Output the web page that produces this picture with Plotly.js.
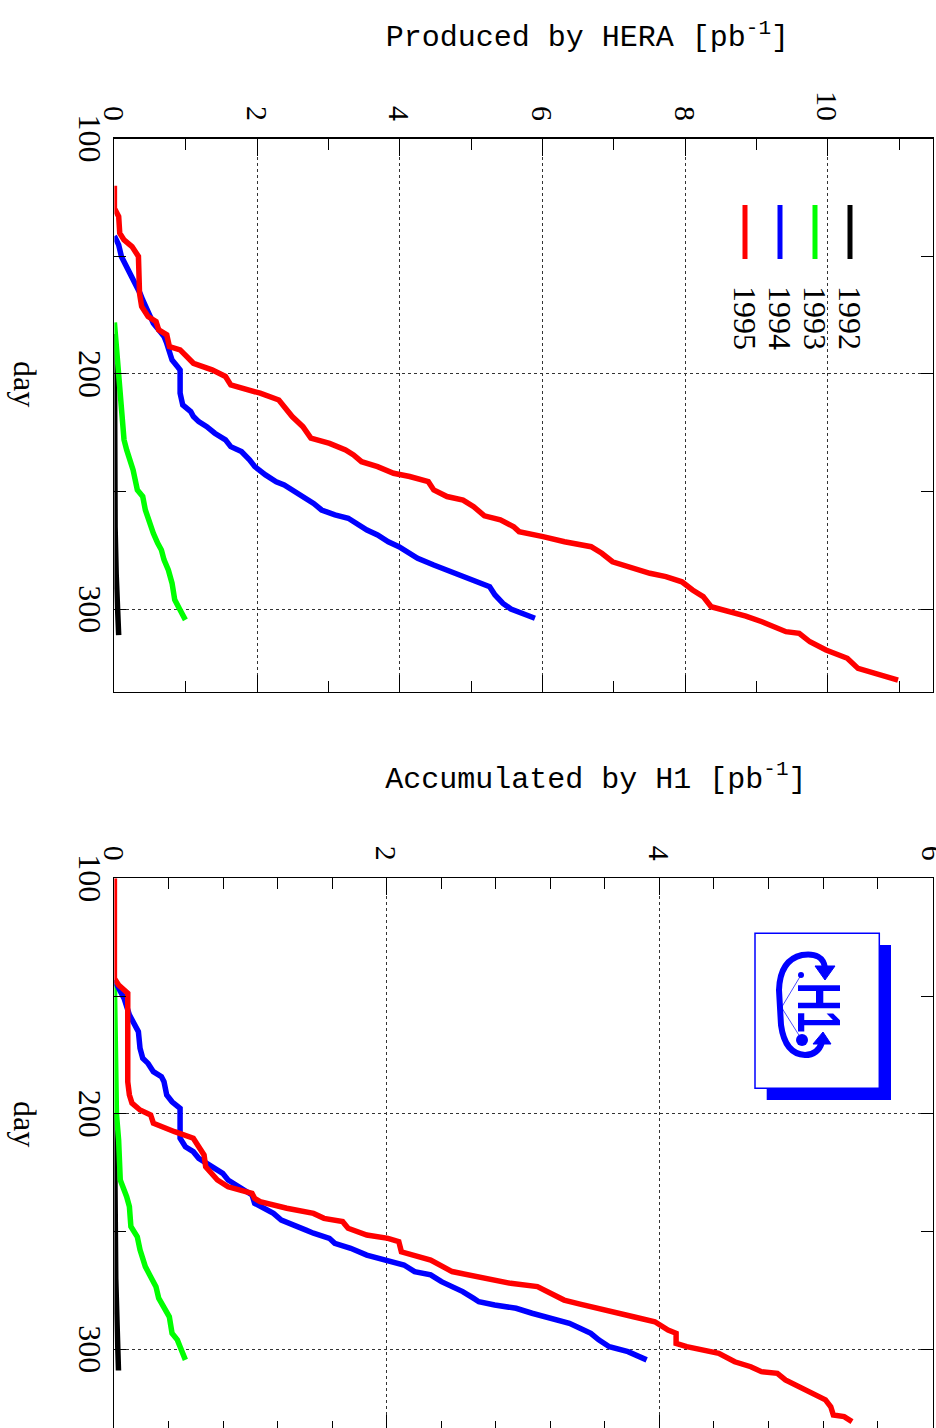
<!DOCTYPE html>
<html>
<head>
<meta charset="utf-8">
<script src="https://cdn.plot.ly/plotly-3.0.1.min.js"></script>
<style>
html,body{margin:0;padding:0;background:#fff;width:936px;height:1428px;overflow:hidden;}
#wrap{position:absolute;left:0;top:0;width:1440px;height:936px;transform-origin:0 0;transform:translate(936px,0) rotate(90deg);}
</style>
</head>
<body>
<div id="wrap"><div id="chart" style="width:1440px;height:936px;"></div></div>
<script>
// ---------- DATA ----------
const years = ['1992','1993','1994','1995'];
const colors = ['#000000','#00ff00','#0000ff','#ff0000'];

// Panel 1: luminosity produced by HERA [pb^-1] vs day of year
const hera1992Day  = [183, 215, 240, 265, 285, 300, 311];
const hera1992Lumi = [0.0, 0.0, 0.0, 0.01, 0.025, 0.04, 0.06];
const hera1993Day  = [178.2, 200.7, 215.3, 228.0, 232.3, 240.8, 249.3, 252.1, 257.8, 263.5, 267.7, 271.9, 274.8, 279.0, 283.3, 288.9, 296.0, 300.3, 304.5];
const hera1993Lumi = [0.0, 0.06, 0.10, 0.135, 0.172, 0.262, 0.322, 0.397, 0.434, 0.487, 0.546, 0.606, 0.659, 0.696, 0.756, 0.808, 0.846, 0.921, 0.995];
const hera1994Day  = [141.4, 145.2, 150.1, 154.4, 157.2, 160.1, 162.9, 165.7, 168.6, 171.4, 174.9, 178.5, 181.3, 184.1, 187.0, 189.8, 194.1, 196.9, 198.3, 208.2, 213.2, 216.0, 218.1, 220.3, 222.4, 225.2, 228.0, 230.9, 233.0, 236.5, 239.4, 242.9, 245.8, 247.2, 250.0, 252.8, 255.0, 257.8, 259.9, 261.3, 263.5, 266.3, 268.4, 271.3, 273.4, 275.5, 278.3, 281.2, 283.3, 285.4, 287.6, 290.4, 293.9, 297.5, 299.9, 301.4, 303.8];
const hera1994Lumi = [0.0, 0.06, 0.098, 0.172, 0.21, 0.262, 0.322, 0.359, 0.397, 0.434, 0.487, 0.546, 0.621, 0.696, 0.734, 0.771, 0.808, 0.883, 0.921, 0.921, 0.958, 1.07, 1.108, 1.182, 1.295, 1.407, 1.557, 1.631, 1.781, 1.894, 1.968, 2.118, 2.268, 2.38, 2.53, 2.68, 2.792, 2.904, 3.091, 3.278, 3.391, 3.54, 3.689, 3.839, 3.988, 4.1, 4.25, 4.476, 4.662, 4.811, 5.036, 5.26, 5.335, 5.447, 5.558, 5.709, 5.895];
const hera1995Day  = [120.1, 129.6, 133.1, 140.2, 143.1, 145.9, 150.1, 165.7, 171.4, 175.6, 177.8, 181.3, 183.4, 188.4, 189.8, 195.5, 198.3, 201.1, 204.7, 206.1, 208.2, 211.1, 215.3, 218.1, 222.4, 227.3, 229.5, 232.3, 234.4, 237.3, 239.4, 242.2, 243.6, 245.8, 249.3, 252.1, 253.6, 256.4, 260.3, 262.0, 264.9, 267.0, 269.1, 271.3, 273.4, 276.2, 279.8, 282.6, 284.7, 286.1, 288.3, 291.8, 294.6, 298.9, 301.0, 302.9, 305.3, 309.5, 310.2, 313.8, 317.3, 320.8, 325.1, 327.9, 330.1];
const hera1995Lumi = [0.0, 0.0, 0.06, 0.075, 0.135, 0.247, 0.337, 0.352, 0.382, 0.472, 0.584, 0.621, 0.734, 0.771, 0.921, 1.108, 1.369, 1.557, 1.631, 1.819, 2.043, 2.305, 2.418, 2.492, 2.642, 2.754, 3.016, 3.24, 3.352, 3.464, 3.689, 3.913, 4.139, 4.4, 4.476, 4.662, 4.887, 5.036, 5.186, 5.41, 5.597, 5.672, 6.008, 6.309, 6.682, 6.832, 6.982, 7.281, 7.506, 7.73, 7.954, 8.104, 8.253, 8.365, 8.627, 8.851, 9.076, 9.413, 9.599, 9.749, 9.974, 10.273, 10.423, 10.722, 10.984];

// Panel 2: luminosity accumulated by H1 [pb^-1] vs day of year
const h1_1992Day  = [200, 240, 270, 290, 309];
const h1_1992Lumi = [0.0, 0.0, 0.01, 0.02, 0.03];
const h1_1993Day  = [145, 180, 200, 211.1, 228.1, 235.2, 239.4, 247.9, 252.2, 257.8, 264.9, 269.2, 273.4, 278.3, 281.9, 286.2, 293.2, 296.0, 298.9, 304.5];
const h1_1993Lumi = [0.0, 0.005, 0.015, 0.031, 0.043, 0.09, 0.11, 0.121, 0.168, 0.188, 0.227, 0.266, 0.305, 0.325, 0.364, 0.403, 0.423, 0.462, 0.482, 0.521];
const h1_1994Day  = [143.2, 146.7, 151.0, 158.0, 161.6, 165.1, 172.2, 176.4, 178.6, 182.1, 184.2, 186.4, 192.0, 194.9, 197.7, 210.4, 214.0, 216.1, 218.9, 221.7, 223.1, 225.3, 228.1, 230.2, 232.4, 234.5, 238.0, 240.1, 242.3, 245.1, 247.2, 249.3, 250.7, 252.9, 255.0, 257.1, 260.0, 262.1, 264.2, 267.0, 268.4, 271.3, 273.4, 275.5, 278.3, 279.8, 281.2, 282.6, 284.7, 286.8, 289.0, 291.1, 293.2, 296.0, 298.9, 301.0, 303.1, 304.5];
const h1_1994Lumi = [0.0, 0.031, 0.071, 0.11, 0.149, 0.176, 0.188, 0.208, 0.247, 0.286, 0.345, 0.364, 0.384, 0.423, 0.482, 0.482, 0.521, 0.579, 0.619, 0.697, 0.736, 0.795, 0.834, 0.892, 0.951, 1.01, 1.029, 1.108, 1.167, 1.225, 1.304, 1.402, 1.461, 1.578, 1.617, 1.734, 1.852, 2.008, 2.125, 2.203, 2.321, 2.4, 2.478, 2.556, 2.634, 2.674, 2.791, 2.948, 3.065, 3.183, 3.339, 3.417, 3.496, 3.554, 3.632, 3.769, 3.847, 3.906];
const h1_1995Day  = [100, 142.5, 145.3, 147.4, 148.8, 186.4, 192.0, 195.5, 198.4, 200.5, 204.0, 207.6, 210.4, 214.0, 217.5, 222.5, 225.3, 228.1, 231.0, 233.8, 235.9, 237.3, 240.1, 242.3, 244.4, 245.8, 248.6, 251.5, 252.9, 254.3, 258.6, 260.7, 262.1, 267.0, 268.4, 269.9, 272.0, 273.4, 275.5, 279.1, 280.8, 282.6, 284.0, 286.2, 288.3, 291.8, 293.2, 297.5, 298.9, 301.7, 305.3, 307.4, 309.5, 310.2, 313.0, 315.9, 319.4, 321.5, 324.4, 327.9, 328.6, 330.7];
const h1_1995Lumi = [0.0, 0.0, 0.031, 0.071, 0.098, 0.098, 0.11, 0.129, 0.188, 0.266, 0.286, 0.442, 0.579, 0.619, 0.658, 0.67, 0.716, 0.756, 0.834, 1.01, 1.029, 1.069, 1.265, 1.461, 1.538, 1.675, 1.715, 1.852, 2.008, 2.087, 2.106, 2.243, 2.321, 2.478, 2.595, 2.752, 2.908, 3.104, 3.183, 3.3, 3.417, 3.535, 3.652, 3.809, 3.966, 4.063, 4.122, 4.122, 4.2, 4.435, 4.552, 4.67, 4.748, 4.865, 4.924, 5.022, 5.139, 5.218, 5.257, 5.276, 5.355, 5.413];

const dayTicks = [100, 200, 300];
const dayMinorTicks = [150, 250];
const panelTitles = ['Produced by HERA [pb<sup>-1</sup>]', 'Accumulated by H1 [pb<sup>-1</sup>]'];
const dayTitle = 'day';
const logoText = 'H1';

// ---------- LAYOUT HELPERS (landscape, later rotated 90deg) ----------
const W = 1440, H = 936;
const px = x => x / W;
const py = y => 1 - y / H;
const P = (x, y) => px(x).toFixed(5) + ',' + py(y).toFixed(5);

const heraDays = [hera1992Day, hera1993Day, hera1994Day, hera1995Day];
const heraLumi = [hera1992Lumi, hera1993Lumi, hera1994Lumi, hera1995Lumi];
const h1Days = [h1_1992Day, h1_1993Day, h1_1994Day, h1_1995Day];
const h1Lumi = [h1_1992Lumi, h1_1993Lumi, h1_1994Lumi, h1_1995Lumi];

const traces = [];
years.forEach((yr, i) => {
  traces.push({x: heraDays[i], y: heraLumi[i], xaxis: 'x', yaxis: 'y', type: 'scatter', mode: 'lines',
    name: yr, line: {color: colors[i], width: 5.5}, showlegend: false});
});
years.forEach((yr, i) => {
  traces.push({x: h1Days[i], y: h1Lumi[i], xaxis: 'x2', yaxis: 'y2', type: 'scatter', mode: 'lines',
    name: yr, line: {color: colors[i], width: 5.5}, showlegend: false});
});

const serif = 'Liberation Serif, Times New Roman, serif';
const mono = 'Liberation Mono, Courier New, monospace';

function dayAxis(dom, anchor) {
  return {domain: dom, anchor: anchor, range: [100, 335], tickmode: 'array', tickvals: dayTicks,
    ticks: 'inside', ticklen: 12, tickwidth: 1, tickcolor: '#000', mirror: 'allticks',
    showline: true, linecolor: '#000', linewidth: 1.5,
    showgrid: true, gridcolor: '#333', gridwidth: 1, griddash: 'dot', zeroline: false,
    tickfont: {family: serif, size: 32, color: '#000'}, ticklabelstandoff: -4, ticklabeloverflow: 'allow',
    minor: {tickmode: 'array', tickvals: dayMinorTicks, ticks: 'inside', ticklen: 12, tickcolor: '#000', showgrid: false}};
}
function lumAxis(dom, anchor, maxv, minorStep) {
  return {domain: dom, anchor: anchor, range: [0, maxv], tickmode: 'linear', tick0: 0, dtick: 2,
    ticks: 'inside', ticklen: 17, tickwidth: 1, tickcolor: '#000', mirror: 'allticks',
    showline: true, linecolor: '#000', linewidth: 1.5,
    showgrid: true, gridcolor: '#333', gridwidth: 1, griddash: 'dot', zeroline: false,
    tickfont: {family: serif, size: 30, color: '#000'}, ticklabelstandoff: 10, ticklabeloverflow: 'allow',
    minor: {tick0: 0, dtick: minorStep, ticks: 'inside', ticklen: 11, tickcolor: '#000', showgrid: false}};
}

const yDom = [py(821.6), py(3.3)];
const layout = {
  width: W, height: H, margin: {l: 0, r: 0, t: 0, b: 0},
  paper_bgcolor: '#fff', plot_bgcolor: '#fff', showlegend: false,
  xaxis: dayAxis([px(138.5), px(691.7)], 'y'),
  yaxis: lumAxis(yDom, 'x', 11.47, 1),
  xaxis2: dayAxis([px(878.3), px(1431.7)], 'y2'),
  yaxis2: lumAxis(yDom, 'x2', 6.005, 0.4),
  annotations: [], shapes: []
};

// axis titles
[36, 777.5].forEach((xx, i) => {
  layout.annotations.push({text: panelTitles[i], xref: 'paper', yref: 'paper', x: px(xx), y: py(552.7),
    xanchor: 'center', yanchor: 'bottom', textangle: -90, showarrow: false,
    font: {family: mono, size: 30, color: '#000'}});
});
[384, 1124].forEach(xx => {
  layout.annotations.push({text: dayTitle, xref: 'paper', yref: 'paper', x: px(xx), y: py(911),
    xanchor: 'center', yanchor: 'middle', showarrow: false, font: {family: serif, size: 32, color: '#000'}});
});

// legend (panel 1)
const legY = [86, 121, 156, 191];
years.forEach((yr, i) => {
  layout.shapes.push({type: 'line', xref: 'paper', yref: 'paper', x0: px(205), x1: px(259), y0: py(legY[i]), y1: py(legY[i]),
    line: {color: colors[i], width: 5}});
  layout.annotations.push({text: yr, xref: 'paper', yref: 'paper', x: px(284), y: py(legY[i]),
    xanchor: 'left', yanchor: 'middle', showarrow: false, font: {family: serif, size: 32, color: '#000'}});
});

// H1 logo (panel 2)
const blue = '#0000ff';
layout.shapes.push({type: 'rect', xref: 'paper', yref: 'paper', x0: px(945), x1: px(1100), y0: py(169.3), y1: py(45),
  fillcolor: blue, line: {width: 0}});
layout.shapes.push({type: 'rect', xref: 'paper', yref: 'paper', x0: px(933.3), x1: px(1088.3), y0: py(181), y1: py(56.7),
  fillcolor: '#fff', line: {color: blue, width: 1.5}});
layout.shapes.push({type: 'path', xref: 'paper', yref: 'paper', line: {color: blue, width: 6},
  path: 'M' + P(968, 111) + ' Q' + P(952, 113) + ' ' + P(955, 134) + ' Q' + P(960, 156) + ' ' + P(990, 157) +
        ' L' + P(1025, 155) + ' Q' + P(1054, 151) + ' ' + P(1055, 131) + ' Q' + P(1055, 118) + ' ' + P(1042, 114)});
layout.shapes.push({type: 'path', xref: 'paper', yref: 'paper', fillcolor: blue, line: {color: blue, width: 1},
  path: 'M' + P(966, 101) + ' L' + P(966, 121) + ' L' + P(980, 111) + ' Z'});
layout.shapes.push({type: 'path', xref: 'paper', yref: 'paper', fillcolor: blue, line: {color: blue, width: 1},
  path: 'M' + P(1044, 105) + ' L' + P(1044, 123) + ' L' + P(1032, 113) + ' Z'});
layout.shapes.push({type: 'line', xref: 'paper', yref: 'paper', x0: px(975), y0: py(135), x1: px(1010), y1: py(156), line: {color: blue, width: 0.7}});
layout.shapes.push({type: 'line', xref: 'paper', yref: 'paper', x0: px(1040), y0: py(134), x1: px(1005), y1: py(156), line: {color: blue, width: 0.7}});
layout.shapes.push({type: 'circle', xref: 'paper', yref: 'paper', x0: px(972), x1: px(978), y0: py(138), y1: py(132), fillcolor: blue, line: {width: 0}});
layout.shapes.push({type: 'circle', xref: 'paper', yref: 'paper', x0: px(1034), x1: px(1046), y0: py(140), y1: py(128), fillcolor: blue, line: {width: 0}});
layout.annotations.push({text: '<b>' + logoText + '</b>', xref: 'paper', yref: 'paper', x: px(1007.5), y: py(116),
  xanchor: 'center', yanchor: 'middle', showarrow: false,
  font: {family: 'Liberation Sans, sans-serif', size: 62, color: blue}});

Plotly.newPlot('chart', traces, layout, {displayModeBar: false, staticPlot: true}).then(() => {
  // condense the logo lettering horizontally (keeps it real text)
  document.querySelectorAll('#chart .annotation-text').forEach(t => {
    if (t.textContent === logoText) {
      t.setAttribute('textLength', '50');
      t.setAttribute('lengthAdjust', 'spacingAndGlyphs');
    }
  });
});
</script>
</body>
</html>
